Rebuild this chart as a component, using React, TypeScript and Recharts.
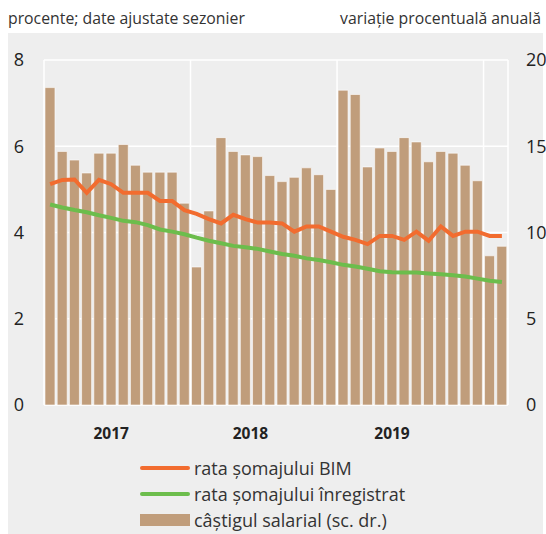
import {
  ComposedChart,
  Bar,
  Line,
  XAxis,
  YAxis,
  CartesianGrid,
} from "recharts";

const months = [
  "2017-01", "2017-02", "2017-03", "2017-04", "2017-05", "2017-06",
  "2017-07", "2017-08", "2017-09", "2017-10", "2017-11", "2017-12",
  "2018-01", "2018-02", "2018-03", "2018-04", "2018-05", "2018-06",
  "2018-07", "2018-08", "2018-09", "2018-10", "2018-11", "2018-12",
  "2019-01", "2019-02", "2019-03", "2019-04", "2019-05", "2019-06",
  "2019-07", "2019-08", "2019-09", "2019-10", "2019-11", "2019-12",
  "2020-01", "2020-02",
];

// câștigul salarial, variație procentuală anuală (sc. dr.)
const wageGrowth = [
  18.4, 14.7, 14.2, 13.45, 14.6, 14.6, 15.1, 13.9, 13.5, 13.5, 13.5, 11.7,
  8.0, 11.25, 15.5, 14.7, 14.5, 14.4, 13.3, 12.95, 13.2, 13.75, 13.35, 12.5,
  18.25, 18.0, 13.8, 14.9, 14.7, 15.5, 15.25, 14.1, 14.7, 14.6, 13.9, 13.0,
  8.65, 9.2,
];

// rata șomajului BIM, procente
const bimRate = [
  5.12, 5.22, 5.23, 4.92, 5.22, 5.12, 4.92, 4.92, 4.92, 4.73, 4.73, 4.52,
  4.43, 4.31, 4.21, 4.41, 4.31, 4.23, 4.23, 4.21, 4.02, 4.14, 4.14, 4.02,
  3.9, 3.83, 3.73, 3.92, 3.92, 3.83, 4.02, 3.81, 4.14, 3.92, 4.02, 4.02,
  3.92, 3.92,
];

// rata șomajului înregistrat, procente
const registeredRate = [
  4.65, 4.58, 4.52, 4.47, 4.4, 4.34, 4.27, 4.24, 4.17, 4.07, 4.02, 3.96,
  3.88, 3.81, 3.75, 3.69, 3.66, 3.62, 3.56, 3.5, 3.46, 3.4, 3.36, 3.31,
  3.25, 3.21, 3.16, 3.1, 3.08, 3.07, 3.07, 3.05, 3.03, 3.01, 2.98, 2.93,
  2.88, 2.85,
];

const leftTicks = [0, 2, 4, 6, 8];
const rightTicks = [0, 5, 10, 15, 20];
const yearTicks = ["2017-06", "2018-05", "2019-05"];
const yearBoundaries = [0, 12, 24, 36, 38];

const ORANGE = "#F26C2F";
const GREEN = "#6CBD4C";
const TAN = "#C09D7B";
const FONT = "'Open Sans', sans-serif";

const chartData = months.map((m, i) => ({
  month: m,
  wage: wageGrowth[i],
  bim: bimRate[i],
  registered: registeredRate[i],
}));

const legendItems = [
  { label: "rata șomajului BIM", color: ORANGE, kind: "line" },
  { label: "rata șomajului înregistrat", color: GREEN, kind: "line" },
  { label: "câștigul salarial (sc. dr.)", color: TAN, kind: "bar" },
];

function YearTick({ x, y, payload }: any) {
  const shift = payload.value === "2018-05" ? 5 : 0;
  return (
    <text
      x={x + shift}
      y={y}
      dy={26}
      textAnchor="middle"
      fill="#222"
      fontFamily={FONT}
      fontWeight={700}
      fontSize={15.5}
    >
      {String(payload.value).slice(0, 4)}
    </text>
  );
}

function ChartLegend() {
  return (
    <div
      style={{
        position: "absolute",
        left: 140,
        top: 455,
        fontFamily: FONT,
        fontSize: 18,
        color: "#333",
      }}
    >
      {legendItems.map((item) => (
        <div
          key={item.label}
          style={{ display: "flex", alignItems: "center", height: 26 }}
        >
          <span
            style={{
              display: "inline-block",
              width: 50,
              height: item.kind === "bar" ? 12 : 4,
              borderRadius: item.kind === "bar" ? 0 : 2,
              background: item.color,
              marginRight: 4,
            }}
          />
          <span>{item.label}</span>
        </div>
      ))}
    </div>
  );
}

export default function App() {
  return (
    <div
      style={{
        position: "absolute",
        left: 0,
        top: 0,
        width: 546,
        height: 534,
        background: "#fff",
        overflow: "hidden",
      }}
    >
      <div
        style={{
          position: "absolute",
          left: 8,
          top: 33,
          width: 535,
          height: 501,
          background: "#EEEEEE",
        }}
      />
      <div
        style={{
          position: "absolute",
          left: 8,
          top: 7,
          fontFamily: FONT,
          fontSize: 15.8,
          color: "#333",
        }}
      >
        procente; date ajustate sezonier
      </div>
      <div
        style={{
          position: "absolute",
          right: 5,
          top: 7,
          fontFamily: FONT,
          fontSize: 15.8,
          color: "#333",
        }}
      >
        variație procentuală anuală
      </div>
      <div style={{ position: "absolute", left: 0, top: 0 }}>
        <ComposedChart
          width={546}
          height={534}
          data={chartData}
          margin={{ top: 60, right: 0, bottom: 99, left: 0 }}
          barCategoryGap="8%"
        >
          <CartesianGrid
            stroke="#ffffff"
            strokeWidth={1.5}
            yAxisId="left"
            verticalCoordinatesGenerator={({ offset }: any) =>
              yearBoundaries.map(
                (b) => offset.left + (offset.width * b) / months.length
              )
            }
          />
          <XAxis
            dataKey="month"
            ticks={yearTicks}
            interval={0}
            axisLine={false}
            tickLine={false}
            height={30}
            tick={<YearTick />}
          />
          <YAxis
            yAxisId="left"
            orientation="left"
            domain={[0, 8]}
            ticks={leftTicks}
            width={44}
            axisLine={false}
            tickLine={false}
            tickSize={0}
            tickMargin={20}
            tick={{ fill: "#222", fontSize: 18, fontFamily: FONT }}
          />
          <YAxis
            yAxisId="right"
            orientation="right"
            domain={[0, 20]}
            ticks={rightTicks}
            width={38}
            axisLine={false}
            tickLine={false}
            tickSize={0}
            tickMargin={18}
            tick={{ fill: "#222", fontSize: 18, fontFamily: FONT }}
          />
          <Bar
            yAxisId="right"
            dataKey="wage"
            fill={TAN}
            stroke="#ffffff"
            strokeOpacity={0.6}
            strokeWidth={1}
            isAnimationActive={false}
          />
          <Line
            yAxisId="left"
            dataKey="registered"
            stroke={GREEN}
            strokeWidth={4}
            dot={false}
            type="linear"
            isAnimationActive={false}
          />
          <Line
            yAxisId="left"
            dataKey="bim"
            stroke={ORANGE}
            strokeWidth={4}
            dot={false}
            type="linear"
            isAnimationActive={false}
          />
        </ComposedChart>
      </div>
      <ChartLegend />
    </div>
  );
}
